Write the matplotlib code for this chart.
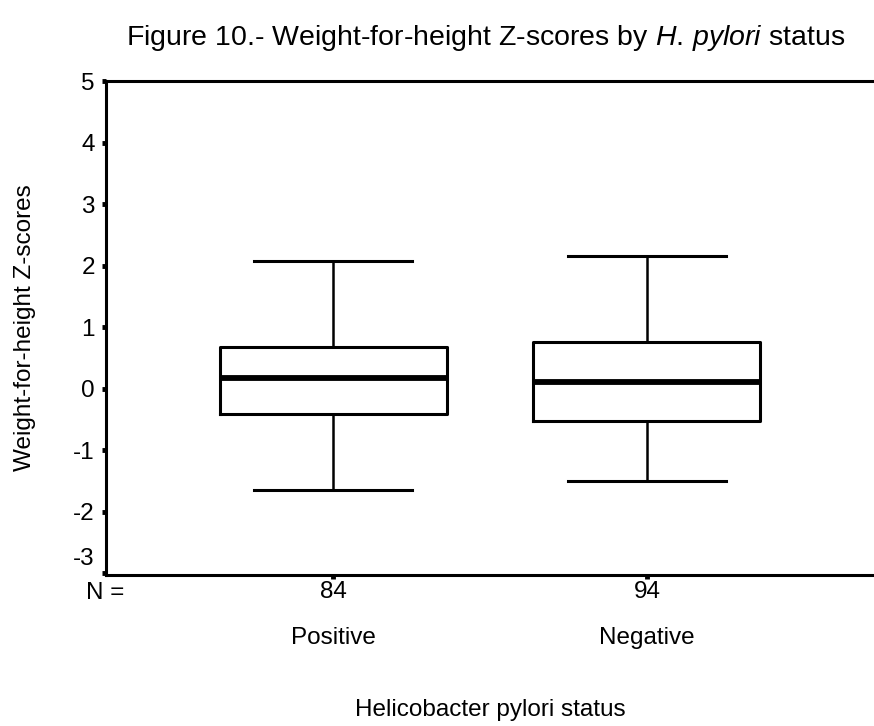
import matplotlib
matplotlib.use('Agg')
from matplotlib import pyplot as plt
import matplotlib.transforms as mtransforms

plt.rcParams['font.family'] = ['Liberation Sans', 'DejaVu Sans']
plt.rcParams['mathtext.fontset'] = 'custom'
plt.rcParams['mathtext.rm'] = 'Liberation Sans'
plt.rcParams['mathtext.it'] = 'Liberation Sans:italic'
plt.rcParams['axes.unicode_minus'] = False

# values
groups = ['Positive', 'Negative']
n_counts = ['84', '94']
whis_low = [-1.65, -1.51]
q1 = [-0.42, -0.52]
median = [0.18, 0.10]
q3 = [0.67, 0.75]
whis_high = [2.08, 2.15]
y_ticks = [-3, -2, -1, 0, 1, 2, 3, 4, 5]

fig = plt.figure(figsize=(8.74, 7.26), dpi=100)
W, H = 874, 726
ax = fig.add_axes([106 / W, 1 - 575 / H, 1 - 106 / W, (575 - 81) / H])

stats = []
for i in range(len(groups)):
    stats.append(dict(whislo=whis_low[i], q1=q1[i], med=median[i],
                      q3=q3[i], whishi=whis_high[i], fliers=[]))

ax.bxp(stats, positions=[1, 2], widths=0.723, capwidths=0.506,
       showfliers=False,
       boxprops=dict(color='black', linewidth=2.2),
       medianprops=dict(color='black', linewidth=4.2, solid_capstyle='butt'),
       whiskerprops=dict(color='black', linewidth=1.8),
       capprops=dict(color='black', linewidth=2.2))

ax.set_xlim(0.277, 2.723)
ax.set_ylim(-3.03, 5.0)
ax.set_yticks(y_ticks)
ax.set_xticks([1, 2])
ax.set_xticklabels(n_counts)
ax.tick_params(axis='both', direction='out', length=3, width=3.5,
               labelsize=17.5, color='black')
ax.tick_params(axis='y', pad=5)
ax.tick_params(axis='x', pad=1)

# the bottom label sits a bit above its tick, as in the original
fig.canvas.draw()
lab = ax.get_yticklabels()[0]
lab.set_transform(lab.get_transform() +
                  mtransforms.ScaledTranslation(0, 17 / 100, fig.dpi_scale_trans))

for s in ['left', 'top', 'bottom']:
    ax.spines[s].set_linewidth(2.2)
ax.spines['right'].set_visible(False)

trans = mtransforms.blended_transform_factory(ax.transData, fig.transFigure)
for i, g in enumerate(groups):
    ax.text(i + 1, 1 - 638 / H, g, transform=trans, ha='center', va='center',
            fontsize=17.5)
ax.text(105 / W, 1 - 593 / H, 'N =', transform=fig.transFigure,
        ha='center', va='center', fontsize=17.5)

fig.text((106 + 874) / 2 / W, 1 - 710 / H, 'Helicobacter pylori status',
         ha='center', va='center', fontsize=17.5)
fig.text(25 / W, 1 - 328 / H, 'Weight-for-height Z-scores', rotation=90,
         ha='center', va='center', fontsize=17.5)
fig.text(486 / W, 1 - 38 / H,
         r'Figure 10.- Weight-for-height Z-scores by $\it{H.\,pylori}$ status',
         ha='center', va='center', fontsize=20.5)

fig.savefig('out.png', dpi=100)
